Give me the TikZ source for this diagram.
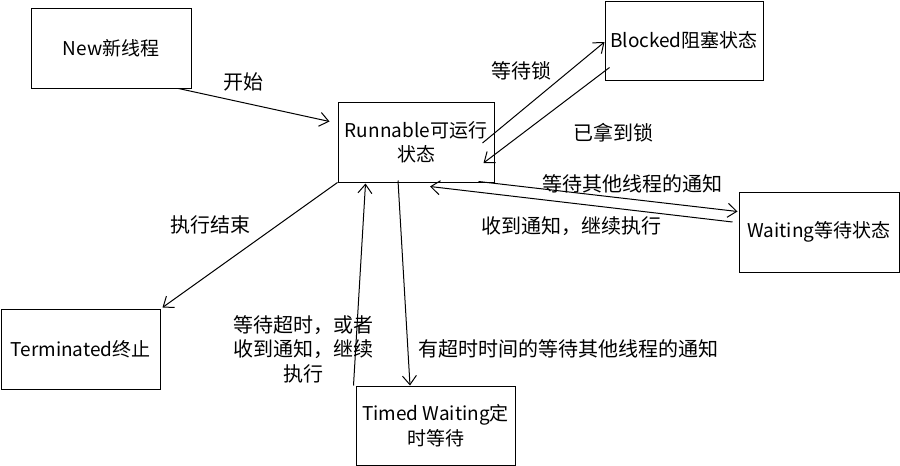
\documentclass[tikz,border=0pt]{standalone}
\usepackage{fontspec}
\setmainfont{Noto Sans CJK SC}
\usetikzlibrary{arrows.meta}
\begin{document}
\begin{tikzpicture}[x=1pt,y=-1pt,
  every node/.style={font=\fontsize{19}{24.5}\selectfont},
  statebox/.style={draw,line width=1pt,inner sep=0pt,align=center},
  conn/.style={line width=1pt,-{Straight Barb[length=9pt,width=14pt,line width=1pt]}},
  lbl/.style={inner sep=0pt,align=center,font=\fontsize{20}{24.5}\selectfont}]
\useasboundingbox (0,0) rectangle (900,466);
\node[statebox,minimum width=160pt,minimum height=80pt] (new) at (111,48) {New新线程};
\node[statebox,minimum width=156pt,minimum height=80pt] (run) at (416,142) {Runnable可运行\\状态};
\node[statebox,minimum width=158pt,minimum height=79pt] (blk) at (684,40.5) {Blocked阻塞状态};
\node[statebox,minimum width=160pt,minimum height=80pt] (wait) at (819,232) {Waiting等待状态};
\node[statebox,minimum width=159pt,minimum height=80pt] (term) at (80.5,349) {Terminated终止};
\node[statebox,minimum width=159pt,minimum height=79pt] (timed) at (435.5,425.5) {Timed Waiting定\\时等待};

\draw[conn] ([xshift=-13pt]new.south east) -- ([xshift=-8pt,yshift=-20pt]run.north west);
\draw[conn] ([xshift=-12pt,yshift=-1pt]run.east) -- ([yshift=-1.5pt]blk.west);
\draw[conn] ([xshift=5pt,yshift=13pt]blk.south west) -- ([xshift=-11pt,yshift=-21pt]run.east);
\draw[conn] ([xshift=-16pt,yshift=1pt]run.south east) -- ([xshift=-1pt,yshift=-20pt]wait.north west);
\draw[conn] ([xshift=-6pt,yshift=10pt]wait.west) -- ([xshift=14pt,yshift=-4pt]run.south);
\draw[conn] (run.south west) -- ([xshift=2pt,yshift=1pt]term.north east);
\draw[conn] ([xshift=-18pt,yshift=2pt]run.south) -- ([xshift=-25.5pt]timed.north);
\draw[conn] ([xshift=-2pt]timed.north west) -- ([xshift=28pt,yshift=-1pt]run.south west);

\node[lbl] (l1) at (243,82) {开始};
\node[lbl] (l2) at (521,71) {等待锁};
\node[lbl] (l3) at (613,133) {已拿到锁};
\node[lbl] (l4) at (632,184) {等待其他线程的通知};
\node[lbl] (l5) at (571,226) {收到通知，继续执行};
\node[lbl] (l6) at (210,225) {执行结束};
\node[lbl] (l7) at (568,349) {有超时时间的等待其他线程的通知};
\node[lbl] (l8) at (303,349) {等待超时，或者\\收到通知，继续\\执行};
\end{tikzpicture}
\end{document}
